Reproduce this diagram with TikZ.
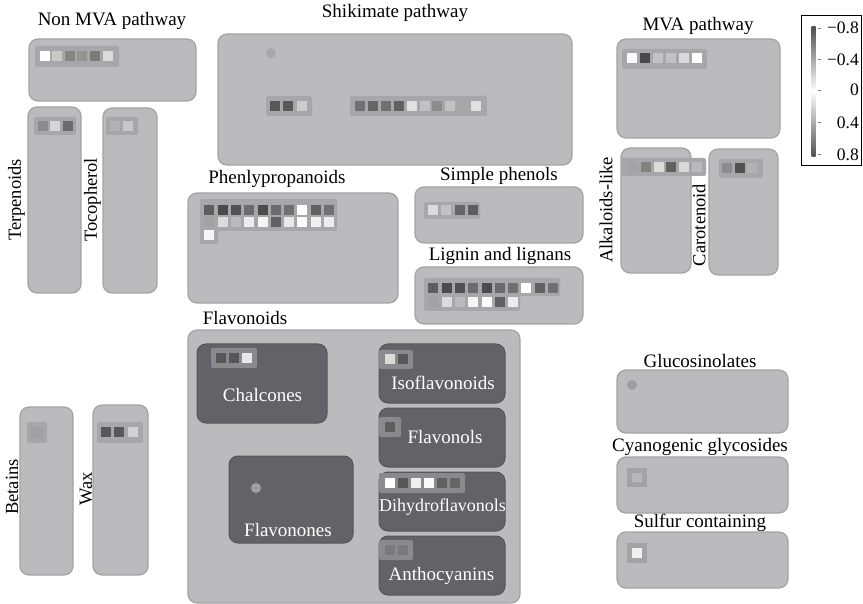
\documentclass[tikz,border=0pt]{standalone}
\usepackage{fontspec}
\setmainfont{Liberation Serif}
\definecolor{boxfill}{HTML}{BBBBBE}
\definecolor{boxline}{HTML}{A3A3A6}
\definecolor{barfill}{HTML}{A7A7AB}
\definecolor{darkfill}{HTML}{636367}
\definecolor{darkline}{HTML}{56565A}
\definecolor{darkbar}{HTML}{8A8A8E}
\definecolor{gradend}{HTML}{505054}
\newcommand{\sqrow}[4]{\foreach \g [count=\i from 0] in {#4}{\fill[white!\g!black] ({#1+\i*#3},#2) rectangle ++(10,10);}}
\tikzset{
  pbox/.style={fill=boxfill, draw=boxline, line width=1.2pt, rounded corners=9pt},
  dbox/.style={fill=darkfill, draw=darkline, line width=1pt, rounded corners=9pt},
  pbar/.style={fill=barfill, rounded corners=2pt},
  dbar/.style={fill=darkbar, rounded corners=2pt},
  lbl/.style={font=\fontsize{19}{19}\selectfont, inner sep=0pt, anchor=base},
  rlbl/.style={font=\fontsize{18.5}{18.5}\selectfont, inner sep=0pt, anchor=center, rotate=90},
  wlbl/.style={lbl, text=white},
  dot/.style={circle, inner sep=0pt, minimum size=10pt},
  cbl/.style={font=\fontsize{17.5}{17.5}\selectfont, inner sep=0pt, anchor=east},
}
\begin{document}
\begin{tikzpicture}[x=1pt,y=-1pt]
\useasboundingbox (0,0) rectangle (863,604);
% ---------- Non MVA pathway
\node[lbl] (lnonmva) at (112,26) {Non MVA pathway};
\draw[pbox] (29,39) rectangle (196,101);
\fill[pbar] (35,46) rectangle (119,67);
\sqrow{39.5}{51.5}{12.6}{100,79,52,58,48,86}
% Terpenoids
\draw[pbox] (28,107) rectangle (81,293);
\fill[pbar] (34,117) rectangle (76,135);
\sqrow{37.5}{121}{12.6}{55,84,42}
\node[rlbl] (lterp) at (16.5,200) {Terpenoids};
% Tocopherol
\draw[pbox] (103,108) rectangle (157,293);
\fill[pbar] (106,117) rectangle (138,135);
\sqrow{109.5}{121}{13}{70,78}
\node[rlbl] (ltoco) at (92.5,200) {Tocopherol};
% ---------- Shikimate
\node[lbl] (lshik) at (395,18) {Shikimate pathway};
\draw[pbox] (218,34) rectangle (572,165);
\node[dot, fill=white!66!black] (shdot) at (271,53) {};
\fill[pbar] (266,96) rectangle (312,116);
\sqrow{270}{101}{13.3}{35,35,80}
\fill[pbar] (350,96) rectangle (487,116);
\sqrow{355}{101}{12.9}{44,40,44,38,88,76,55,76,66,88}
% ---------- Phenlypropanoids
\node[lbl] (lphen) at (277,184) {Phenlypropanoids};
\draw[pbox] (188,193) rectangle (398,303);
\fill[barfill, rounded corners=2pt] (200,199) -- (337,199) -- (337,231) -- (218,231) -- (218,244) -- (200,244) -- cycle;
\sqrow{204.3}{205}{13.3}{37,29,32,42,30,42,44,100,38,44}
\sqrow{204.3}{217.5}{13.3}{63,86,73,93,96,38,91,98,94,93}
\sqrow{204.3}{230}{13.3}{96}
% ---------- Simple phenols
\node[lbl] (lsimp) at (499,181) {Simple phenols};
\draw[pbox] (415,187) rectangle (583,243);
\fill[pbar] (424,202) rectangle (480,219);
\sqrow{428.3}{205}{13.1}{86,76,40,37}
% ---------- Lignin and lignans
\node[lbl] (llign) at (500,261) {Lignin and lignans};
\draw[pbox] (415,267) rectangle (583,324);
\fill[barfill, rounded corners=2pt] (424,278) -- (560,278) -- (560,296) -- (520,296) -- (520,311) -- (424,311) -- cycle;
\sqrow{428.3}{283}{13.3}{37,29,32,42,30,42,44,100,38,44}
\sqrow{428.3}{297}{13.3}{63,86,73,96,98,38,93}
% ---------- Flavonoids
\node[lbl] (lflav) at (245,325) {Flavonoids};
\draw[pbox] (188,330) rectangle (520,603);
% Chalcones
\draw[dbox] (197,344) rectangle (327,423);
\fill[dbar] (211,348) rectangle (257,368);
\sqrow{215.5}{353}{13.3}{34,34,91}
\node[wlbl] (lchal) at (262.5,402) {Chalcones};
% Isoflavonoids
\draw[dbox] (379,344) rectangle (505,403);
\fill[dbar] (379,350) rectangle (413,369);
\sqrow{385}{354.5}{12.6}{86,34}
\node[wlbl] (liso) at (443,389) {Isoflavonoids};
% Flavonols
\draw[dbox] (379,408) rectangle (505,467);
\fill[dbar] (379,417) rectangle (401,437);
\sqrow{385}{422}{12.6}{37}
\node[wlbl] (lflavonols) at (445,443) {Flavonols};
% Flavonones
\draw[dbox] (229,456) rectangle (353,543);
\node[dot, fill=white!62!black] (fndot) at (256,488) {};
\node[wlbl] (lflavonones) at (288,536) {Flavonones};
% Dihydroflavonols
\draw[dbox] (379,472) rectangle (505,531);
\fill[dbar] (379,473) rectangle (465,493);
\sqrow{385}{478}{12.9}{100,34,94,98,38,40}
\node[wlbl, font=\fontsize{18}{18}\selectfont] (ldihy) at (442.5,511) {Dihydroflavonols};
% Anthocyanins
\draw[dbox] (379,536) rectangle (505,595);
\fill[dbar] (379,540) rectangle (413,560);
\sqrow{385}{545}{12.6}{48,48}
\node[wlbl] (lantho) at (441.5,580) {Anthocyanins};
% ---------- Betains / Wax
\draw[pbox] (20,407) rectangle (73,575);
\fill[pbar] (27,422) rectangle (47,443);
\fill[white!63!black] (31,427) rectangle (43,438);
\node[rlbl] (lbet) at (12,487) {Betains};
\draw[pbox] (93,405) rectangle (148,575);
\fill[pbar] (97,422) rectangle (143,443);
\sqrow{101}{427}{13.3}{34,34,82}
\node[rlbl] (lwax) at (86,489) {Wax};
% ---------- MVA pathway
\node[lbl] (lmva) at (698,31) {MVA pathway};
\draw[pbox] (617,39) rectangle (780,138);
\fill[pbar] (622,49) rectangle (707,69);
\sqrow{627}{53.5}{13}{98,29,76,76,85,100}
% Alkaloids-like
\draw[pbox] (621,148) rectangle (691,273);
\fill[pbar] (621,158) rectangle (706,176);
\sqrow{628}{162}{12.8}{64,51,86,38,85,73}
\node[rlbl] (lalk) at (606,210) {Alkaloids-like};
% Carotenoid
\draw[pbox] (709,149) rectangle (778,275);
\fill[pbar] (719,159) rectangle (763,178);
\sqrow{722}{163.5}{12.6}{55,32,70}
\node[rlbl] (lcar) at (699,225) {Carotenoid};
% ---------- Glucosinolates etc.
\node[lbl] (lgluc) at (700,367) {Glucosinolates};
\draw[pbox] (617,370) rectangle (788,433);
\node[dot, fill=white!62!black] (gldot) at (632,385) {};
\node[lbl] (lcyan) at (700,451) {Cyanogenic glycosides};
\draw[pbox] (617,457) rectangle (788,513);
\fill[white!64!black] (627,468) rectangle (647,487);
\fill[white!72!black] (632,473) rectangle (642,482);
\node[lbl] (lsulf) at (700,527) {Sulfur containing};
\draw[pbox] (617,532) rectangle (788,588);
\fill[white!64!black] (627,543) rectangle (647,563);
\fill[white!94!black] (632,548) rectangle (642,558);
% ---------- Colour bar
\draw[black, line width=0.9pt] (801,15) rectangle (861,165);
\shade[top color=gradend, bottom color=white] (811.5,27) rectangle (815.5,91);
\shade[top color=white, bottom color=gradend] (811.5,91) rectangle (815.5,157);
\foreach \yy in {28,59,90,122,154} {\draw[gray, line width=0.8pt] (818,\yy) -- (821,\yy);}
\node[cbl] (c1) at (859,28) {−0.8};
\node[cbl] (c2) at (859,60) {−0.4};
\node[cbl] (c3) at (859,90) {0};
\node[cbl] (c4) at (859,123) {0.4};
\node[cbl] (c5) at (859,155) {0.8};
\end{tikzpicture}
\end{document}
